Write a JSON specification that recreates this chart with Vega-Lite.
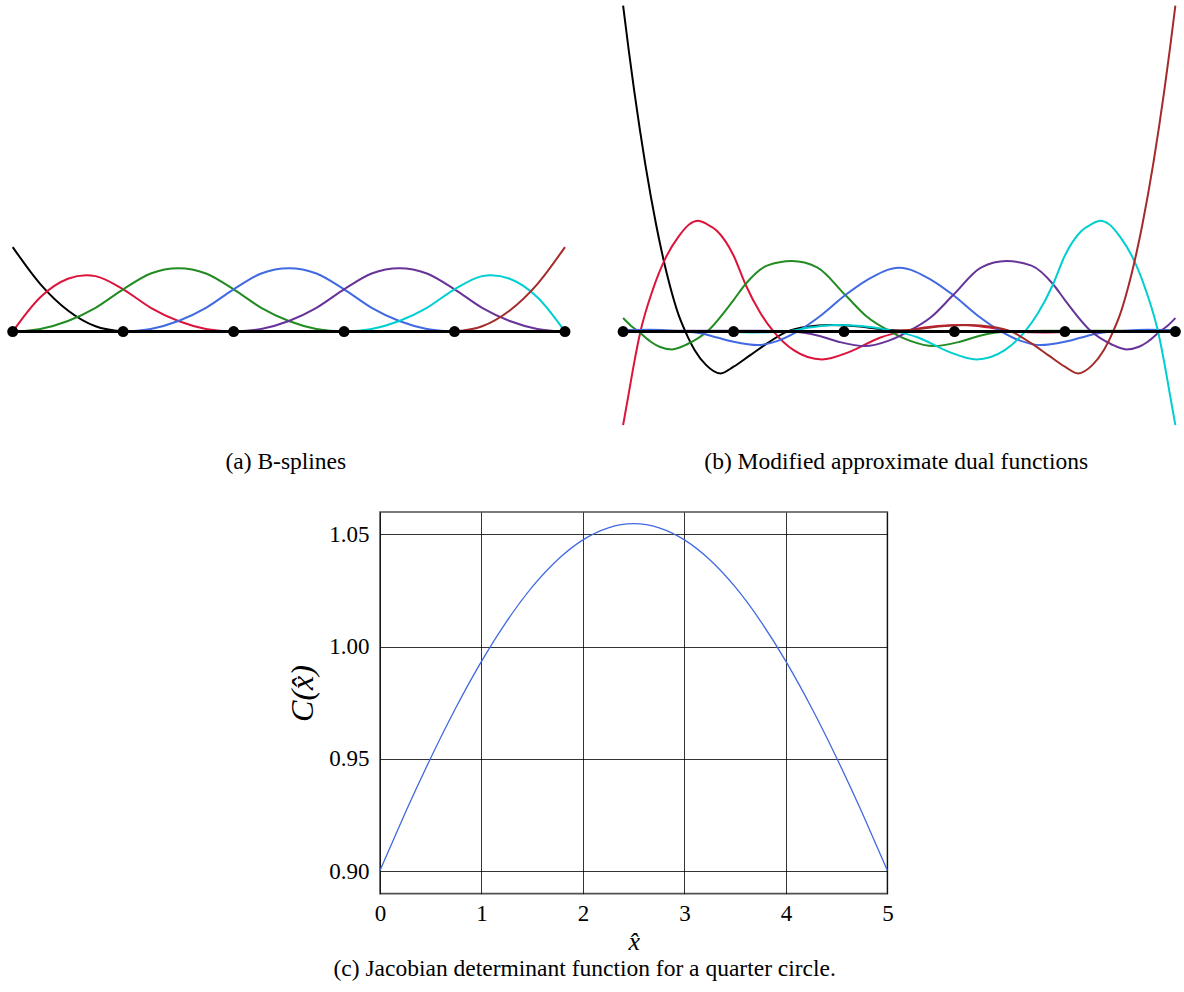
{
  "$schema": "https://vega.github.io/schema/vega-lite/v6.json",
  "padding": {"left": 0, "top": 0, "right": 0, "bottom": 0},
  "background": "white",
  "config": {"view": {"stroke": null}, "font": "Liberation Serif"},
  "spacing": 38,
  "vconcat": [
    {
      "spacing": 38.4,
      "hconcat": [
        {
          "width": 571.6,
          "height": 433,
          "title": {"text": "(a) B-splines", "orient": "bottom", "anchor": "middle", "offset": 16.5, "fontSize": 23.5, "font": "Liberation Serif", "fontWeight": "normal", "color": "black"},
          "layer": [
            {
              "data": {"values": [
                {"f":"N0","x":0,"y":1},{"f":"N0","x":0.25,"y":0.5625},{"f":"N0","x":0.5,"y":0.25},{"f":"N0","x":0.75,"y":0.0625},{"f":"N0","x":1,"y":0},
                {"f":"N1","x":0,"y":0},{"f":"N1","x":0.25,"y":0.40625},{"f":"N1","x":0.5,"y":0.625},{"f":"N1","x":0.6667,"y":0.66667},{"f":"N1","x":0.75,"y":0.65625},{"f":"N1","x":1,"y":0.5},{"f":"N1","x":1.25,"y":0.28125},{"f":"N1","x":1.5,"y":0.125},{"f":"N1","x":1.75,"y":0.03125},{"f":"N1","x":2,"y":0},
                {"f":"N2","x":0,"y":0},{"f":"N2","x":0.25,"y":0.03125},{"f":"N2","x":0.5,"y":0.125},{"f":"N2","x":0.75,"y":0.28125},{"f":"N2","x":1,"y":0.5},{"f":"N2","x":1.25,"y":0.6875},{"f":"N2","x":1.5,"y":0.75},{"f":"N2","x":1.75,"y":0.6875},{"f":"N2","x":2,"y":0.5},{"f":"N2","x":2.25,"y":0.28125},{"f":"N2","x":2.5,"y":0.125},{"f":"N2","x":2.75,"y":0.03125},{"f":"N2","x":3,"y":0},
                {"f":"N3","x":1,"y":0},{"f":"N3","x":1.25,"y":0.03125},{"f":"N3","x":1.5,"y":0.125},{"f":"N3","x":1.75,"y":0.28125},{"f":"N3","x":2,"y":0.5},{"f":"N3","x":2.25,"y":0.6875},{"f":"N3","x":2.5,"y":0.75},{"f":"N3","x":2.75,"y":0.6875},{"f":"N3","x":3,"y":0.5},{"f":"N3","x":3.25,"y":0.28125},{"f":"N3","x":3.5,"y":0.125},{"f":"N3","x":3.75,"y":0.03125},{"f":"N3","x":4,"y":0},
                {"f":"N4","x":2,"y":0},{"f":"N4","x":2.25,"y":0.03125},{"f":"N4","x":2.5,"y":0.125},{"f":"N4","x":2.75,"y":0.28125},{"f":"N4","x":3,"y":0.5},{"f":"N4","x":3.25,"y":0.6875},{"f":"N4","x":3.5,"y":0.75},{"f":"N4","x":3.75,"y":0.6875},{"f":"N4","x":4,"y":0.5},{"f":"N4","x":4.25,"y":0.28125},{"f":"N4","x":4.5,"y":0.125},{"f":"N4","x":4.75,"y":0.03125},{"f":"N4","x":5,"y":0},
                {"f":"N5","x":3,"y":0},{"f":"N5","x":3.25,"y":0.03125},{"f":"N5","x":3.5,"y":0.125},{"f":"N5","x":3.75,"y":0.28125},{"f":"N5","x":4,"y":0.5},{"f":"N5","x":4.25,"y":0.65625},{"f":"N5","x":4.3333,"y":0.66667},{"f":"N5","x":4.5,"y":0.625},{"f":"N5","x":4.75,"y":0.40625},{"f":"N5","x":5,"y":0},
                {"f":"N6","x":4,"y":0},{"f":"N6","x":4.25,"y":0.0625},{"f":"N6","x":4.5,"y":0.25},{"f":"N6","x":4.75,"y":0.5625},{"f":"N6","x":5,"y":1}
              ]},
              "mark": {"type": "line", "strokeWidth": 2, "interpolate": "monotone"},
              "encoding": {
                "x": {"field": "x", "type": "quantitative", "scale": {"domain": [-0.115, 5.06], "nice": false, "zero": false}, "axis": null},
                "y": {"field": "y", "type": "quantitative", "scale": {"domain": [-1.2, 3.923], "nice": false, "zero": false}, "axis": null},
                "color": {"field": "f", "type": "nominal", "legend": null, "scale": {"domain": ["N0","N1","N2","N3","N4","N5","N6"], "range": ["#000000","#dc143c","#228b22","#4169e1","#663399","#00ced1","#a52a2a"]}}
              }
            },
            {
              "data": {"values": [{"x": 0, "y": 0}, {"x": 5, "y": 0}]},
              "mark": {"type": "line", "color": "black", "strokeWidth": 3},
              "encoding": {
                "x": {"field": "x", "type": "quantitative"},
                "y": {"field": "y", "type": "quantitative"}
              }
            },
            {
              "data": {"values": [{"x":0,"y":0},{"x":1,"y":0},{"x":2,"y":0},{"x":3,"y":0},{"x":4,"y":0},{"x":5,"y":0}]},
              "mark": {"type": "circle", "size": 120, "color": "black", "opacity": 1},
              "encoding": {
                "x": {"field": "x", "type": "quantitative"},
                "y": {"field": "y", "type": "quantitative"}
              }
            }
          ]
        },
        {
          "width": 571.6,
          "height": 433,
          "title": {"text": "(b) Modified approximate dual functions", "orient": "bottom", "anchor": "middle", "offset": 16.5, "fontSize": 23.5, "font": "Liberation Serif", "fontWeight": "normal", "color": "black"},
          "layer": [
            {
              "data": {"values": [
                {"f":"D0","x":0,"y":3.856},{"f":"D0","x":0.05,"y":3.338},{"f":"D0","x":0.1,"y":2.854},{"f":"D0","x":0.15,"y":2.404},{"f":"D0","x":0.2,"y":1.988},{"f":"D0","x":0.25,"y":1.606},{"f":"D0","x":0.3,"y":1.258},{"f":"D0","x":0.35,"y":0.944},{"f":"D0","x":0.4,"y":0.664},{"f":"D0","x":0.45,"y":0.419},{"f":"D0","x":0.5,"y":0.206},{"f":"D0","x":0.564,"y":0},{"f":"D0","x":0.65,"y":-0.223},{"f":"D0","x":0.75,"y":-0.394},{"f":"D0","x":0.881,"y":-0.495},{"f":"D0","x":1.0,"y":-0.416},{"f":"D0","x":1.152,"y":-0.278},{"f":"D0","x":1.303,"y":-0.14},{"f":"D0","x":1.484,"y":0},{"f":"D0","x":1.665,"y":0.057},{"f":"D0","x":1.876,"y":0.077},{"f":"D0","x":2.087,"y":0.065},{"f":"D0","x":2.358,"y":0.026},{"f":"D0","x":2.6,"y":0.008},{"f":"D0","x":3.0,"y":0},{"f":"D0","x":4.0,"y":0},{"f":"D0","x":5.0,"y":0},
                {"f":"D1","x":0,"y":-1.107},{"f":"D1","x":0.05,"y":-0.74},{"f":"D1","x":0.1,"y":-0.37},{"f":"D1","x":0.157,"y":0},{"f":"D1","x":0.27,"y":0.5},{"f":"D1","x":0.383,"y":0.866},{"f":"D1","x":0.5,"y":1.12},{"f":"D1","x":0.6,"y":1.27},{"f":"D1","x":0.679,"y":1.311},{"f":"D1","x":0.76,"y":1.27},{"f":"D1","x":0.851,"y":1.19},{"f":"D1","x":1.0,"y":0.9},{"f":"D1","x":1.107,"y":0.56},{"f":"D1","x":1.243,"y":0.22},{"f":"D1","x":1.363,"y":0},{"f":"D1","x":1.544,"y":-0.219},{"f":"D1","x":1.801,"y":-0.329},{"f":"D1","x":2.05,"y":-0.24},{"f":"D1","x":2.33,"y":-0.07},{"f":"D1","x":2.6,"y":0.02},{"f":"D1","x":2.85,"y":0.065},{"f":"D1","x":3.08,"y":0.077},{"f":"D1","x":3.3,"y":0.05},{"f":"D1","x":3.53,"y":0},{"f":"D1","x":3.8,"y":-0.01},{"f":"D1","x":4.2,"y":0},{"f":"D1","x":5,"y":0},
                {"f":"D2","x":0,"y":0.16},{"f":"D2","x":0.07,"y":0.07},{"f":"D2","x":0.14,"y":0},{"f":"D2","x":0.25,"y":-0.12},{"f":"D2","x":0.33,"y":-0.18},{"f":"D2","x":0.443,"y":-0.211},{"f":"D2","x":0.58,"y":-0.15},{"f":"D2","x":0.76,"y":0},{"f":"D2","x":1.0,"y":0.373},{"f":"D2","x":1.107,"y":0.56},{"f":"D2","x":1.303,"y":0.78},{"f":"D2","x":1.529,"y":0.834},{"f":"D2","x":1.756,"y":0.76},{"f":"D2","x":2.012,"y":0.432},{"f":"D2","x":2.208,"y":0.175},{"f":"D2","x":2.42,"y":0},{"f":"D2","x":2.6,"y":-0.11},{"f":"D2","x":2.811,"y":-0.172},{"f":"D2","x":3.05,"y":-0.12},{"f":"D2","x":3.23,"y":-0.05},{"f":"D2","x":3.475,"y":0},{"f":"D2","x":3.8,"y":0.01},{"f":"D2","x":4.5,"y":0.01},{"f":"D2","x":5,"y":0},
                {"f":"D3","x":0,"y":0.018},{"f":"D3","x":0.25,"y":0.022},{"f":"D3","x":0.5,"y":0.005},{"f":"D3","x":0.7,"y":-0.02},{"f":"D3","x":0.85,"y":-0.07},{"f":"D3","x":1.0,"y":-0.12},{"f":"D3","x":1.22,"y":-0.16},{"f":"D3","x":1.4,"y":-0.11},{"f":"D3","x":1.575,"y":0},{"f":"D3","x":1.8,"y":0.2},{"f":"D3","x":2.012,"y":0.432},{"f":"D3","x":2.208,"y":0.61},{"f":"D3","x":2.5,"y":0.755},{"f":"D3","x":2.792,"y":0.61},{"f":"D3","x":2.988,"y":0.432},{"f":"D3","x":3.2,"y":0.2},{"f":"D3","x":3.425,"y":0},{"f":"D3","x":3.6,"y":-0.11},{"f":"D3","x":3.78,"y":-0.16},{"f":"D3","x":4.0,"y":-0.12},{"f":"D3","x":4.15,"y":-0.07},{"f":"D3","x":4.3,"y":-0.02},{"f":"D3","x":4.5,"y":0.005},{"f":"D3","x":4.75,"y":0.022},{"f":"D3","x":5,"y":0.018},
                {"f":"D4","x":5,"y":0.16},{"f":"D4","x":4.93,"y":0.07},{"f":"D4","x":4.86,"y":0},{"f":"D4","x":4.75,"y":-0.12},{"f":"D4","x":4.67,"y":-0.18},{"f":"D4","x":4.557,"y":-0.211},{"f":"D4","x":4.42,"y":-0.15},{"f":"D4","x":4.24,"y":0},{"f":"D4","x":4.0,"y":0.373},{"f":"D4","x":3.893,"y":0.56},{"f":"D4","x":3.697,"y":0.78},{"f":"D4","x":3.471,"y":0.834},{"f":"D4","x":3.244,"y":0.76},{"f":"D4","x":2.988,"y":0.432},{"f":"D4","x":2.792,"y":0.175},{"f":"D4","x":2.58,"y":0},{"f":"D4","x":2.4,"y":-0.11},{"f":"D4","x":2.189,"y":-0.172},{"f":"D4","x":1.95,"y":-0.12},{"f":"D4","x":1.77,"y":-0.05},{"f":"D4","x":1.525,"y":0},{"f":"D4","x":1.2,"y":0.01},{"f":"D4","x":0.5,"y":0.01},{"f":"D4","x":0,"y":0},
                {"f":"D5","x":5,"y":-1.107},{"f":"D5","x":4.95,"y":-0.74},{"f":"D5","x":4.9,"y":-0.37},{"f":"D5","x":4.843,"y":0},{"f":"D5","x":4.73,"y":0.5},{"f":"D5","x":4.617,"y":0.866},{"f":"D5","x":4.5,"y":1.12},{"f":"D5","x":4.4,"y":1.27},{"f":"D5","x":4.321,"y":1.311},{"f":"D5","x":4.24,"y":1.27},{"f":"D5","x":4.149,"y":1.19},{"f":"D5","x":4.0,"y":0.9},{"f":"D5","x":3.893,"y":0.56},{"f":"D5","x":3.757,"y":0.22},{"f":"D5","x":3.637,"y":0},{"f":"D5","x":3.456,"y":-0.219},{"f":"D5","x":3.199,"y":-0.329},{"f":"D5","x":2.95,"y":-0.24},{"f":"D5","x":2.67,"y":-0.07},{"f":"D5","x":2.4,"y":0.02},{"f":"D5","x":2.15,"y":0.065},{"f":"D5","x":1.92,"y":0.077},{"f":"D5","x":1.7,"y":0.05},{"f":"D5","x":1.47,"y":0},{"f":"D5","x":1.2,"y":-0.01},{"f":"D5","x":0.8,"y":0},{"f":"D5","x":0,"y":0},
                {"f":"D6","x":5,"y":3.856},{"f":"D6","x":4.95,"y":3.338},{"f":"D6","x":4.9,"y":2.854},{"f":"D6","x":4.85,"y":2.404},{"f":"D6","x":4.8,"y":1.988},{"f":"D6","x":4.75,"y":1.606},{"f":"D6","x":4.7,"y":1.258},{"f":"D6","x":4.65,"y":0.944},{"f":"D6","x":4.6,"y":0.664},{"f":"D6","x":4.55,"y":0.419},{"f":"D6","x":4.5,"y":0.206},{"f":"D6","x":4.436,"y":0},{"f":"D6","x":4.35,"y":-0.223},{"f":"D6","x":4.25,"y":-0.394},{"f":"D6","x":4.119,"y":-0.495},{"f":"D6","x":4.0,"y":-0.416},{"f":"D6","x":3.848,"y":-0.278},{"f":"D6","x":3.697,"y":-0.14},{"f":"D6","x":3.516,"y":0},{"f":"D6","x":3.335,"y":0.057},{"f":"D6","x":3.124,"y":0.077},{"f":"D6","x":2.913,"y":0.065},{"f":"D6","x":2.642,"y":0.026},{"f":"D6","x":2.4,"y":0.008},{"f":"D6","x":2.0,"y":0},{"f":"D6","x":1.0,"y":0},{"f":"D6","x":0,"y":0}
              ]},
              "mark": {"type": "line", "strokeWidth": 2, "interpolate": "monotone"},
              "encoding": {
                "x": {"field": "x", "type": "quantitative", "scale": {"domain": [-0.115, 5.06], "nice": false, "zero": false}, "axis": null},
                "y": {"field": "y", "type": "quantitative", "scale": {"domain": [-1.2, 3.923], "nice": false, "zero": false}, "axis": null},
                "color": {"field": "f", "type": "nominal", "legend": null, "scale": {"domain": ["D0","D1","D2","D3","D4","D5","D6"], "range": ["#000000","#dc143c","#228b22","#4169e1","#663399","#00ced1","#a52a2a"]}}
              }
            },
            {
              "data": {"values": [{"x": 0, "y": 0}, {"x": 5, "y": 0}]},
              "mark": {"type": "line", "color": "black", "strokeWidth": 3},
              "encoding": {
                "x": {"field": "x", "type": "quantitative"},
                "y": {"field": "y", "type": "quantitative"}
              }
            },
            {
              "data": {"values": [{"x":0,"y":0},{"x":1,"y":0},{"x":2,"y":0},{"x":3,"y":0},{"x":4,"y":0},{"x":5,"y":0}]},
              "mark": {"type": "circle", "size": 120, "color": "black", "opacity": 1},
              "encoding": {
                "x": {"field": "x", "type": "quantitative"},
                "y": {"field": "y", "type": "quantitative"}
              }
            }
          ]
        }
      ]
    },
    {
      "spacing": 0,
      "hconcat": [
        {
          "width": 285,
          "height": 10,
          "data": {"values": []},
          "mark": {"type": "point", "opacity": 0}
        },
        {
          "width": 507.4,
          "height": 381.6,
          "view": {"stroke": "#505050", "strokeWidth": 1.6},
          "title": {"text": "(c) Jacobian determinant function for a quarter circle.", "orient": "bottom", "anchor": "middle", "frame": "group", "dx": -49, "offset": 2, "fontSize": 23.5, "font": "Liberation Serif", "fontWeight": "normal", "color": "black"},
          "data": {"values": [
            {"x":0,"y":0.90032},{"x":0.25,"y":0.92609},{"x":0.5,"y":0.95043},{"x":0.75,"y":0.97299},{"x":1,"y":0.99343},{"x":1.25,"y":1.0114},{"x":1.5,"y":1.02661},{"x":1.75,"y":1.03875},{"x":2,"y":1.0476},{"x":2.25,"y":1.05298},{"x":2.5,"y":1.05479},{"x":2.75,"y":1.05298},{"x":3,"y":1.0476},{"x":3.25,"y":1.03875},{"x":3.5,"y":1.02661},{"x":3.75,"y":1.0114},{"x":4,"y":0.99343},{"x":4.25,"y":0.97299},{"x":4.5,"y":0.95043},{"x":4.75,"y":0.92609},{"x":5,"y":0.90032}
          ]},
          "mark": {"type": "line", "color": "#4169e1", "strokeWidth": 1.3, "interpolate": "natural"},
          "encoding": {
            "x": {"field": "x", "type": "quantitative", "scale": {"domain": [0, 5], "nice": false, "zero": false},
              "axis": {"title": "x̂", "values": [0,1,2,3,4,5], "format": "d", "grid": true, "gridColor": "black", "gridWidth": 0.8, "gridOpacity": 1, "ticks": false, "domain": false, "labelFont": "Liberation Serif", "labelFontSize": 23, "labelColor": "black", "labelPadding": 9, "labelFlush": false, "titleFont": "Liberation Serif", "titleFontStyle": "italic", "titleFontWeight": "normal", "titleFontSize": 26, "titleColor": "black", "titlePadding": 3}},
            "y": {"field": "y", "type": "quantitative", "scale": {"domain": [0.89, 1.06], "nice": false, "zero": false},
              "axis": {"title": "C(x̂)", "titleY": 181, "values": [0.9,0.95,1.0,1.05], "format": ".2f", "grid": true, "gridColor": "black", "gridWidth": 0.8, "gridOpacity": 1, "ticks": false, "domain": false, "labelFont": "Liberation Serif", "labelFontSize": 23, "labelColor": "black", "labelPadding": 11, "labelFlush": false, "titleFont": "Liberation Serif", "titleFontStyle": "italic", "titleFontWeight": "normal", "titleFontSize": 32, "titleColor": "black", "titlePadding": 9}}
          }
        }
      ]
    }
  ]
}
